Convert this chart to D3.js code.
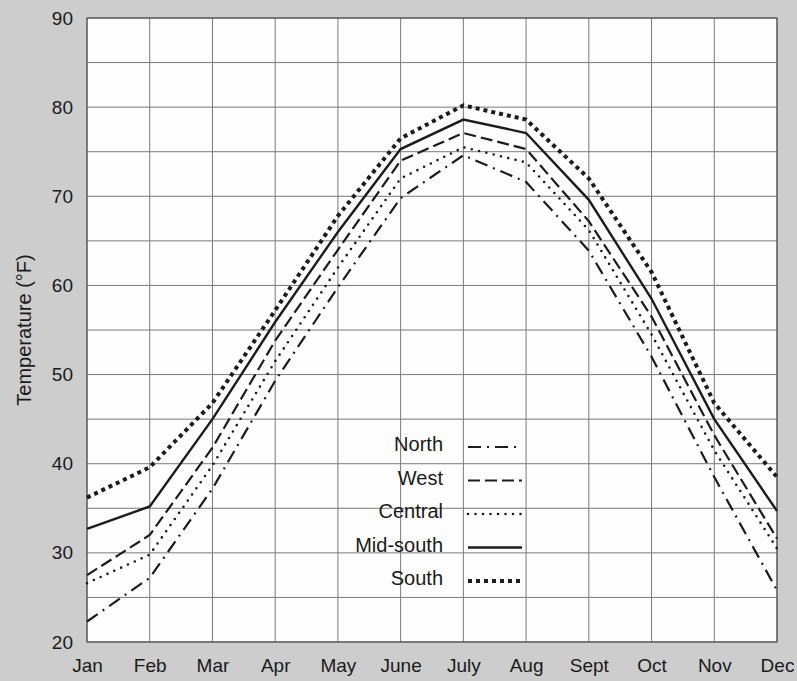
<!DOCTYPE html>
<html>
<head>
<meta charset="utf-8">
<script src="https://cdn.jsdelivr.net/npm/d3@7"></script>
<style>
  body { margin: 0; background: #cdcdcd; }
  svg { display: block; font-family: "Liberation Sans", Arial, sans-serif; }
  .axis path, .axis line { display: none; }
  .axis text { fill: #1a1a1a; }
  .grid line { stroke: #7a7a7a; stroke-width: 1; }
</style>
</head>
<body>
<div id="chart"></div>
<script>
// data
const months = ["Jan", "Feb", "Mar", "Apr", "May", "June", "July", "Aug", "Sept", "Oct", "Nov", "Dec"];
const north = [22.3, 27.2, 37.2, 49.3, 59.8, 69.8, 74.6, 71.6, 63.9, 52.0, 38.5, 25.8];
const west = [27.5, 32.0, 41.8, 53.8, 64.0, 74.0, 77.1, 75.3, 67.2, 56.5, 43.2, 31.6];
const central = [26.6, 29.8, 39.8, 51.5, 62.0, 72.0, 75.5, 73.8, 66.2, 54.5, 41.5, 30.5];
const midSouth = [32.7, 35.2, 45.0, 55.9, 66.0, 75.3, 78.6, 77.1, 69.6, 58.5, 45.0, 34.7];
const south = [36.2, 39.6, 46.8, 57.2, 67.8, 76.5, 80.2, 78.6, 72.0, 61.5, 46.8, 38.5];
const yTicks = [20, 30, 40, 50, 60, 70, 80, 90];
const yGrid = [20, 25, 30, 35, 40, 45, 50, 55, 60, 65, 70, 75, 80, 85, 90];

const series = [
    { name: "North", values: north, dash: "13,6,2,6", width: 2.2, cap: "butt" },
    { name: "West", values: west, dash: "12,5", width: 2.2, cap: "butt" },
    { name: "Central", values: central, dash: "0,7.5", width: 2.6, cap: "round" },
    { name: "Mid-south", values: midSouth, dash: null, width: 2.4, cap: "butt" },
    { name: "South", values: south, dash: "4,4", width: 4, cap: "butt" }
];

const margin = ({ top: 18, right: 20, bottom: 39, left: 87 })
const width = 797 - margin.left - margin.right,
    height = 681 - margin.top - margin.bottom;

let svg = d3.select("#chart").append("svg")
    .attr("width", width + margin.left + margin.right)
    .attr("height", height + margin.top + margin.bottom)
    .append("g")
    .attr("transform", "translate(" + margin.left + "," + margin.top + ")");

let xScale = d3.scalePoint()
    .domain(months)
    .range([0, width])

let yScale = d3.scaleLinear()
    .domain([20, 90])
    .range([height, 0])

// plot background
svg.append("rect")
    .attr("width", width)
    .attr("height", height)
    .attr("fill", "#fdfdfd")

// grid
svg.append("g")
    .attr("class", "grid")
    .selectAll("line.h")
    .data(yGrid)
    .join("line")
    .attr("x1", 0)
    .attr("x2", width)
    .attr("y1", d => yScale(d))
    .attr("y2", d => yScale(d))

svg.append("g")
    .attr("class", "grid")
    .selectAll("line.v")
    .data(months)
    .join("line")
    .attr("x1", d => xScale(d))
    .attr("x2", d => xScale(d))
    .attr("y1", 0)
    .attr("y2", height)

svg.append("rect")
    .attr("width", width)
    .attr("height", height)
    .attr("fill", "none")
    .attr("stroke", "#555")
    .attr("stroke-width", 1.2)

// axes
let xAxis = d3.axisBottom(xScale).tickSize(0).tickPadding(17)
let yAxis = d3.axisLeft(yScale).tickValues(yTicks).tickSize(0).tickPadding(14)

svg.append("g")
    .attr("class", "axis x-axis")
    .attr("transform", `translate(0, ${height})`)
    .call(xAxis)
    .selectAll("text").attr("font-size", 19);

svg.append("g")
    .attr("class", "axis y-axis")
    .call(yAxis)
    .selectAll("text").attr("font-size", 19);

svg.append("text")
    .attr("transform", "rotate(-90)")
    .attr("x", -height / 2)
    .attr("y", -56)
    .attr("text-anchor", "middle")
    .attr("font-size", 20)
    .attr("fill", "#1a1a1a")
    .text("Temperature (°F)")

// lines
const line = d3.line()
    .x((d, i) => xScale(months[i]))
    .y(d => yScale(d))

svg.selectAll(".series")
    .data(series)
    .join("path")
    .attr("class", "series")
    .attr("d", d => line(d.values))
    .attr("fill", "none")
    .attr("stroke", "#1c1c1c")
    .attr("stroke-width", d => d.width)
    .attr("stroke-dasharray", d => d.dash)
    .attr("stroke-linecap", d => d.cap)

// legend
const legend = svg.append("g")
    .attr("transform", "translate(356, 426)")

const rows = legend.selectAll(".row")
    .data(series)
    .join("g")
    .attr("class", "row")
    .attr("transform", (d, i) => `translate(0, ${i * 33.5})`)

rows.append("text")
    .attr("x", 0)
    .attr("y", 0)
    .attr("dy", "0.35em")
    .attr("text-anchor", "end")
    .attr("font-size", 20)
    .attr("fill", "#1a1a1a")
    .text(d => d.name)

rows.append("line")
    .attr("x1", 25)
    .attr("x2", 79)
    .attr("y1", 3)
    .attr("y2", 3)
    .attr("stroke", "#1c1c1c")
    .attr("stroke-width", d => d.width)
    .attr("stroke-dasharray", d => d.dash)
    .attr("stroke-linecap", d => d.cap)
</script>
</body>
</html>
